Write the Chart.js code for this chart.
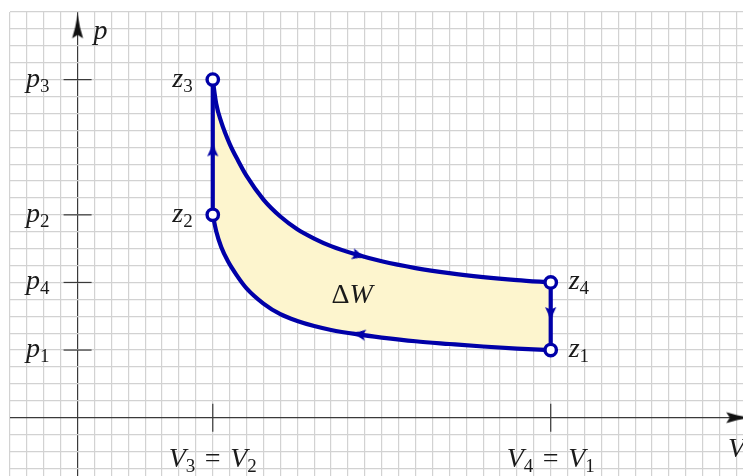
<!DOCTYPE html>
<html><head><meta charset="utf-8">
<script src="https://cdn.jsdelivr.net/npm/chart.js@4"></script>
<style>html,body{margin:0;padding:0;background:#fff}#wrap{width:743px;height:476px;position:relative}</style>
</head><body><div id="wrap"><canvas id="c"></canvas></div>
<script>
// ---------- data (V, p in grid units) ----------
const zV = [28, 8, 8, 28];            // z1, z2, z3, z4
const zP = [4, 12, 20, 8];
const zLabels = ['z_1', 'z_2', 'z_3', 'z_4'];

// upper curve z3 -> z4
const upperV = [8, 8.2, 8.5, 9.0, 9.5, 10, 11, 12, 13, 14, 15, 16.5, 18, 20, 22, 24, 26, 28];
const upperP = [20, 18.6, 17.5, 16.2, 15.2, 14.3, 12.9, 11.9, 11.15, 10.6, 10.15, 9.65, 9.25, 8.85, 8.55, 8.32, 8.14, 8.0];
// lower curve z1 -> z2 (stored by increasing V)
const lowerV = [8, 8.2, 8.5, 8.9, 9.4, 10, 11, 12, 13, 14, 15, 16.5, 18, 20, 22, 24, 26, 28];
const lowerP = [12, 11.05, 10.1, 9.25, 8.45, 7.65, 6.75, 6.12, 5.72, 5.42, 5.19, 4.94, 4.74, 4.52, 4.36, 4.21, 4.09, 4.0];

// direction arrows on the cycle
const arrowV = [8, 28, 16.7, 16.6];
const arrowP = [15.9, 6.1, 9.58, 4.95];
const arrowRot = [0, 180, 105, 279];

// axis ticks and labels
const pTicks = [4, 8, 12, 20];
const pTickLabels = ['p_1', 'p_4', 'p_2', 'p_3'];
const vTicks = [8, 28];
const vTickLabels = ['V_3 = V_2', 'V_4 = V_1'];
const areaLabel = 'ΔW';
const areaLabelV = 16.25, areaLabelP = 6.8;
const axisNames = ['p', 'V'];

// ---------- styles ----------
const BLUE = '#0000a8';
const FILL = 'rgb(253,245,206)';
const GRID = '#d2d2d2';
const AXIS = '#3a3a3a';
const TEXT = '#1a1a1a';
const MAIN = 28, SUB = 19, SUBDY = 5;
const FONT = '"Liberation Serif", "DejaVu Serif", serif';

function makeArrow(len, half, notch, color) {
  const s = Math.ceil(len + 2);
  const c = document.createElement('canvas');
  c.width = s; c.height = s;
  const g = c.getContext('2d');
  const cx = s / 2, top = (s - len) / 2;
  g.fillStyle = color;
  g.beginPath();
  g.moveTo(cx, top);
  g.quadraticCurveTo(cx + half * 0.35, top + len * 0.55, cx + half, top + len);
  g.lineTo(cx, top + len - notch);
  g.lineTo(cx - half, top + len);
  g.quadraticCurveTo(cx - half * 0.35, top + len * 0.55, cx, top);
  g.closePath();
  g.fill();
  return c;
}
const curveArrowImg = makeArrow(15, 5.6, 2.5, BLUE);
const axisArrowImg = makeArrow(24, 5.5, 3.5, '#111');

const xy = (xs, ys) => xs.map((v, i) => ({x: v, y: ys[i]}));

function tokens(str) {
  const out = [];
  for (let i = 0; i < str.length; i++) {
    const c = str[i];
    if (c === '_') { out.push({t: str[i + 1], sub: true}); i++; }
    else out.push({t: c, sub: false});
  }
  return out;
}
function fontFor(tok) {
  const italic = !tok.sub && /[A-Za-z]/.test(tok.t);
  return (italic ? 'italic ' : '') + (tok.sub ? SUB : MAIN) + 'px ' + FONT;
}
function drawMath(ctx, str, x, y, align) {
  const toks = tokens(str);
  const widths = toks.map(t => { if (t.t === ' ') return MAIN * 0.34; ctx.font = fontFor(t); return ctx.measureText(t.t).width; });
  const total = widths.reduce((a, b) => a + b, 0);
  let cx = align === 'right' ? x - total : align === 'center' ? x - total / 2 : x;
  ctx.textAlign = 'left';
  ctx.textBaseline = 'alphabetic';
  toks.forEach((t, i) => {
    if (t.t !== ' ') { ctx.font = fontFor(t); ctx.fillText(t.t, cx, y + (t.sub ? SUBDY : 0)); }
    cx += widths[i];
  });
}

const textPlugin = {
  id: 'mathText',
  afterDatasetsDraw(chart) {
    const {ctx, scales: {x, y}} = chart;
    const x0 = x.getPixelForValue(0), y0 = y.getPixelForValue(0);
    ctx.save();
    ctx.fillStyle = TEXT;
    pTicks.forEach((v, i) => drawMath(ctx, pTickLabels[i], x0 - 28, y.getPixelForValue(v) + 7, 'right'));
    vTicks.forEach((v, i) => drawMath(ctx, vTickLabels[i], x.getPixelForValue(v), y0 + 49, 'center'));
    zV.forEach((v, i) => {
      const px = x.getPixelForValue(v), py = y.getPixelForValue(zP[i]);
      const right = v > 18;
      drawMath(ctx, zLabels[i], right ? px + 18 : px - 20, py + 7, right ? 'left' : 'right');
    });
    drawMath(ctx, areaLabel, x.getPixelForValue(areaLabelV), y.getPixelForValue(areaLabelP), 'center');
    drawMath(ctx, axisNames[0], x0 + 16, y.getPixelForValue(y.max) + 27, 'left');
    drawMath(ctx, axisNames[1], x.right - 15, y0 + 39, 'left');
    ctx.restore();
  }
};

const lineStyle = {
  showLine: true, borderColor: BLUE, borderWidth: 4.2, pointRadius: 0,
  borderJoinStyle: 'round', borderCapStyle: 'round', fill: false
};

new Chart(document.getElementById('c'), {
  type: 'line',
  data: {
    datasets: [
      { data: xy(zV, zP), showLine: false, pointRadius: 5.7, pointBorderWidth: 3.4,
        pointBackgroundColor: '#fff', pointBorderColor: BLUE, clip: false },
      { data: xy(arrowV, arrowP), showLine: false, pointStyle: curveArrowImg,
        pointRadius: 6, pointRotation: arrowRot, clip: false },
      Object.assign({}, lineStyle, { data: xy(upperV, upperP), cubicInterpolationMode: 'monotone',
        fill: { target: '+1' }, backgroundColor: FILL }),
      Object.assign({}, lineStyle, { data: xy(lowerV, lowerP), cubicInterpolationMode: 'monotone' }),
      Object.assign({}, lineStyle, { data: xy([zV[1], zV[2]], [zP[1], zP[2]]) }),
      Object.assign({}, lineStyle, { data: xy([zV[3], zV[0]], [zP[3], zP[0]]) }),
      { data: pTicks.map(v => ({x: 0, y: v})).concat(vTicks.map(v => ({x: v, y: 0}))),
        showLine: false, pointStyle: 'line', pointRadius: 14, pointBorderWidth: 1.2,
        pointBorderColor: AXIS, pointRotation: pTicks.map(() => 0).concat(vTicks.map(() => 90)), clip: false },
      { data: [{x: 0, y: 23.15}, {x: 39.1, y: 0}], showLine: false, pointStyle: axisArrowImg,
        pointRadius: 12, pointRotation: [0, 90], clip: false }
    ]
  },
  options: {
    responsive: true, maintainAspectRatio: false, devicePixelRatio: 1,
    animation: false, events: [],
    layout: { autoPadding: false, padding: { left: 10, top: 12, right: 0, bottom: 0 } },
    plugins: { legend: { display: false }, tooltip: { enabled: false },
      filler: { drawTime: 'beforeDatasetsDraw' } },
    scales: {
      x: { type: 'linear', min: -4, max: 39.38,
        ticks: { display: false, stepSize: 1, includeBounds: false },
        border: { display: false },
        grid: { drawTicks: false,
          color: c => (c.tick && c.tick.value === 0) ? AXIS : GRID,
          lineWidth: 1.2 } },
      y: { type: 'linear', min: -3.45, max: 24,
        ticks: { display: false, stepSize: 1, includeBounds: false },
        border: { display: false },
        grid: { drawTicks: false,
          color: c => (c.tick && c.tick.value === 0) ? AXIS : GRID,
          lineWidth: 1.2 } }
    }
  },
  plugins: [textPlugin]
});
</script></body></html>
